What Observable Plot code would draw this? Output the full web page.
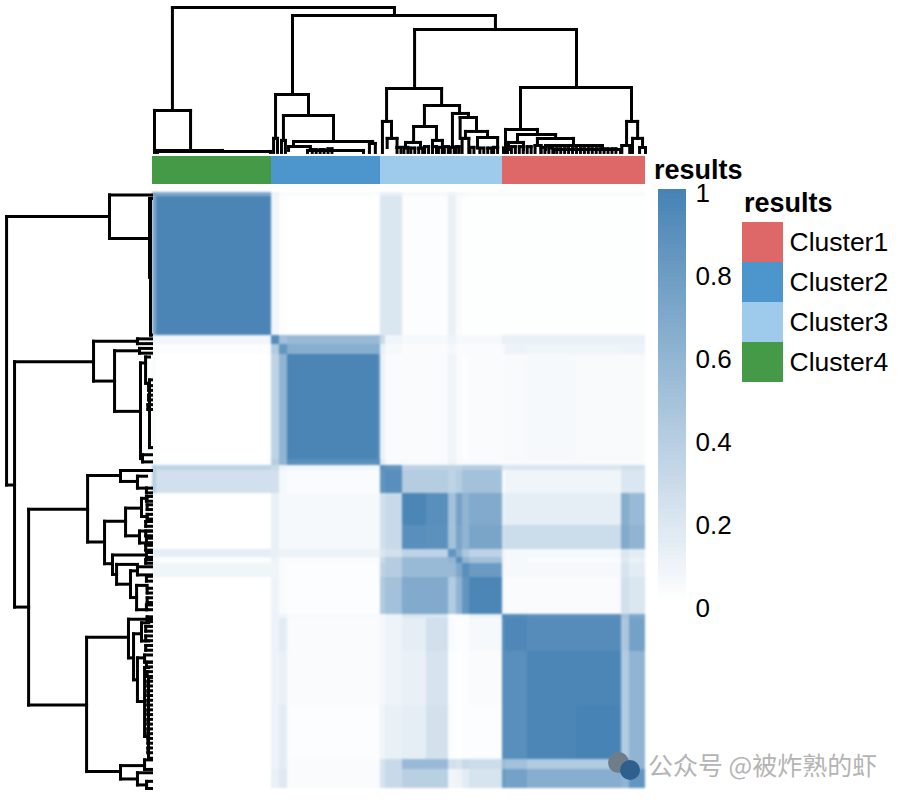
<!DOCTYPE html>
<html><head><meta charset="utf-8">
<script src="https://cdn.jsdelivr.net/npm/d3@7"></script>
<script src="https://cdn.jsdelivr.net/npm/@observablehq/plot@0.6"></script>
<style>
html,body{margin:0;padding:0;background:#fff}
#root{position:relative;width:900px;height:800px;overflow:hidden;font-family:"Liberation Sans",Arial,sans-serif;color:#000}
#root>svg,#root>div{position:absolute}
.ttl{font-weight:bold;font-size:27px;line-height:23px}
.wm{font-size:25px;color:#b4b4b4;white-space:nowrap;line-height:30px;font-family:"Noto Sans CJK SC",sans-serif}
.dot{border-radius:50%}
</style></head><body><div id="root"></div>
<script>
// sample rank edges of the heat-map segments (ordering of 250 samples), columns and rows
const colEdges = [0,2,60.3,64.4,68.5,114.6,115.6,118,127,139,150,154,157,161,177.5,179,190,215,238,242,250];
const rowEdges = [0,1.7,60,63.8,68,112,114.6,116.7,126.3,139.7,149.7,153.1,155.6,161.5,177,178.7,192.5,215,237.7,241.9,250];
// consensus values, row by row, one value per column segment
const consensus = [
 [.75,.70,.10,.03,.03,.03,.12,.12,.05,.05,.10,.05,.05,.04,.04,.04,.04,.04,.04,.04],
 [.70,.98,.07,.02,.00,.01,.20,.20,.02,.02,.12,.03,.01,.01,.01,.01,.01,.01,.01,.01],
 [.10,.07,.92,.50,.55,.55,.30,.08,.05,.05,.10,.05,.05,.05,.12,.12,.12,.12,.12,.12],
 [.03,.02,.42,.85,.65,.65,.12,.05,.03,.03,.06,.03,.03,.03,.05,.10,.08,.08,.10,.10],
 [.03,.00,.35,.60,.98,.85,.10,.03,.03,.03,.08,.03,.02,.03,.03,.04,.05,.04,.04,.04],
 [.03,.01,.40,.60,.90,.95,.15,.04,.04,.04,.10,.04,.03,.03,.03,.04,.04,.04,.04,.04],
 [.40,.35,.30,.10,.06,.10,.90,.85,.35,.35,.35,.35,.40,.40,.20,.20,.20,.20,.25,.25],
 [.40,.25,.25,.05,.03,.05,.85,.90,.40,.40,.35,.40,.50,.50,.03,.08,.08,.08,.20,.20],
 [.02,.00,.12,.05,.05,.05,.25,.30,.97,.90,.50,.75,.60,.68,.12,.14,.14,.14,.65,.55],
 [.02,.00,.12,.05,.05,.05,.25,.30,.90,.88,.50,.72,.60,.72,.25,.28,.28,.28,.68,.60],
 [.14,.14,.12,.10,.10,.10,.20,.25,.35,.35,.85,.65,.45,.35,.10,.05,.05,.05,.20,.15],
 [.03,.02,.10,.03,.03,.03,.30,.40,.55,.55,.60,.90,.60,.50,.08,.05,.03,.03,.18,.12],
 [.08,.08,.08,.03,.02,.03,.35,.40,.55,.55,.55,.70,.90,.80,.06,.05,.05,.05,.22,.15],
 [.01,.00,.10,.03,.02,.02,.42,.50,.68,.68,.42,.60,.85,.97,.05,.03,.03,.03,.25,.20],
 [.01,.00,.10,.08,.04,.04,.05,.10,.20,.20,.02,.02,.02,.10,.97,.92,.88,.88,.50,.70],
 [.01,.00,.10,.15,.03,.04,.06,.10,.14,.25,.03,.02,.02,.05,.92,.95,.92,.92,.45,.75],
 [.01,.00,.10,.12,.03,.03,.06,.10,.12,.22,.02,.00,.02,.03,.90,.90,.97,.97,.42,.60],
 [.01,.00,.10,.15,.02,.03,.08,.12,.14,.24,.02,.00,.02,.02,.90,.90,.97,.99,.42,.60],
 [.01,.00,.10,.15,.03,.03,.22,.30,.55,.55,.25,.22,.30,.28,.55,.50,.42,.42,.72,.60],
 [.01,.00,.12,.18,.03,.03,.22,.30,.38,.38,.08,.10,.15,.22,.80,.75,.65,.65,.60,.85]
];
// annotation bar
const clusterNames = ["Cluster1","Cluster2","Cluster3","Cluster4"];
const clusterColors = ["#DE6868","#4D95CD","#9ECAEB","#459A47"];
const clusterStart = [177.5,60.3,115.6,0];
const clusterEnd = [250,115.6,177.5,60.3];
// dendrogram merges: [rank a, rank b, height, height of child a, height of child b]
const merges = [
 [10.1,122.7,100,29,94.5],[1,19.3,29,0,1.4],[2.5,35.5,1.4,.7,.7],[2.5,59.8,.7,0,0],
 [71,173.9,94.5,40,84.8],[62.4,79.1,40,9.7,25.5],[66.4,91.8,25.5,8.3,7.6],[61.4,63.4,9.7,0,0],
 [65.4,67.4,8.3,0,0],[71.5,111.6,7.6,4.1,6.2],[69,80,4.1,1.4,1.4],[78.6,107,1.4,0,0],[110,113,6.2,0,0],
 [81,83,2,0,0],[85,87,2,0,0],[89,91,2.5,0,0],
 [132.9,215,84.8,44.1,44.8],[118.7,146.6,44.1,21.4,32.4],[116.6,121.2,21.4,0,9.7],[119,124,9.7,3.4,3.4],
 [137.9,155.7,32.4,17.9,26.9],[132.4,144,17.9,6.9,8.3],[128.3,135.9,6.9,3,3],[142,147,8.3,0,0],
 [152.1,160.2,26.9,4,24.1],[156,164.3,24.1,9.7,14.5],[158.7,169.9,14.5,9.7,10.3],[157,160.4,9.7,0,0],[164.8,175,10.3,3,3],
 [186.6,242.9,44.8,15.9,21.4],[179,195.2,15.9,0,12.4],[185.1,204.4,12.4,6.9,9.7],[180.5,188.1,6.9,2,2],
 [195.2,213.5,9.7,4.8,4.8],[199.3,228.2,4.8,2,2],[203.4,237.3,2.1,0,0],[194,197,4.8,0,0],
 [240.4,246,21.4,4.8,9.7],[238,242,4.8,0,0],[243.4,248.5,9.7,0,3.4],[247,250,3.4,0,0],
 [124,126,3.5,0,0],[127.5,129.5,3.5,0,0],[131,133,3,0,0],[135,137,3,0,0],[138,140,4,0,0],[142,144,4,0,0],
 [145,147,3.5,0,0],[148,150,4,0,0],[151,153,3.5,0,0],[154,155.5,4,0,0],[161,163,3.5,0,0],[166,168,3,0,0],
 [170,172,3,0,0],[173,175,3.5,0,0],[178,180,3,0,0],[182,184,4,0,0],[186,188,4,0,0],[190,192,4,0,0],
 [197,199,3.5,0,0],[201,203,3,0,0],[205,207,2.5,0,0],[209,211,2.5,0,0],[213,215,2.5,0,0],[217,219,2.5,0,0],
 [221,223,2.5,0,0],[225,227,2.5,0,0],[229,231,2.5,0,0],[233,235,2.5,0,0]
];
const colorbarTicks = [0,.2,.4,.6,.8,1];

const heatCells = consensus.flatMap((row,i)=>row.map((v,j)=>({x1:colEdges[j],x2:colEdges[j+1],y1:rowEdges[i],y2:rowEdges[i+1],v})));
const segs = merges.flatMap(([a,b,h,ha,hb])=>[
 {r1:a,h1:ha,r2:a,h2:h},{r1:a,h1:h,r2:b,h2:h},{r1:b,h1:hb,r2:b,h2:h}]);
// dendrogram height -> position beyond the matrix, in rank units of each axis
const topY = h => -16.8 - h*.608;
const leftX = h => -.5 - h*.735;
const annot = clusterNames.map((n,i)=>({n,c:clusterColors[i],x1:clusterStart[i],x2:clusterEnd[i]}));
const heatColor = {type:"linear",domain:[0,1],range:["#ffffff","#4682B4"],interpolate:"rgb"};

const main = Plot.plot({
 width:650,height:800,margin:0,
 style:{background:"transparent"},
 x:{domain:[0,250],range:[152,645],axis:null},
 y:{domain:[0,250],range:[192,788],axis:null},
 color:heatColor,
 marks:[
  Plot.rect(heatCells,{x1:"x1",x2:"x2",y1:"y1",y2:"y2",fill:"v",shapeRendering:"crispEdges",imageFilter:"blur(0.8px)"}),
  Plot.rect(annot,{x1:"x1",x2:"x2",y1:()=>-15,y2:()=>-3.3,fill:{value:"c",scale:null},shapeRendering:"crispEdges"}),
  Plot.link(segs,{x1:"r1",x2:"r2",y1:d=>topY(d.h1),y2:d=>topY(d.h2),stroke:"#000",strokeWidth:3,strokeLinecap:"square"}),
  Plot.link(segs,{y1:"r1",y2:"r2",x1:d=>leftX(d.h1),x2:d=>leftX(d.h2),stroke:"#000",strokeWidth:3,strokeLinecap:"square"})
 ]
});
main.style.left="0";main.style.top="0";

// colour bar with its own value axis
const rampStops = d3.range(0,1,.01);
const bar = Plot.plot({
 width:112,height:480,marginLeft:0,marginRight:75,marginTop:30,marginBottom:30,
 style:{background:"transparent",fontFamily:'"Liberation Sans",Arial,sans-serif',fontSize:"26px",color:"#000"},
 x:{domain:[0,1],axis:null},
 y:{domain:[0,1],range:[448,33.5],axis:"right",ticks:colorbarTicks,tickSize:0,tickPadding:0,tickFormat:d=>String(d),label:null,labelArrow:"none"},
 color:heatColor,
 marks:[
  Plot.rect(rampStops,{x1:()=>0,x2:()=>.76,y1:d=>d+.008,y2:d=>d+.02,fill:d=>d,shapeRendering:"crispEdges"})
 ]
});
bar.style.left="658px";bar.style.top="160px";

// categorical legend
const legend = Plot.plot({
 width:156,height:160,margin:0,
 style:{background:"transparent",fontFamily:'"Liberation Sans",Arial,sans-serif',fontSize:"26.5px",color:"#000"},
 x:{domain:[0,1],range:[0,41],axis:null},
 y:{domain:clusterNames,padding:0,axis:null},
 marks:[
  Plot.barX(clusterNames,{x1:()=>0,x2:()=>1,y:d=>d,fill:{value:(d,i)=>clusterColors[i],scale:null}}),
  Plot.text(clusterNames,{x:()=>1,y:d=>d,text:d=>d,textAnchor:"start",dx:6,fill:"#000"})
 ]
});
legend.style.left="742px";legend.style.top="222px";

const root = document.getElementById("root");
root.append(main,bar,legend);
function label(txt,cls,x,y){const e=document.createElement("div");e.className=cls;e.textContent=txt;e.style.left=x+"px";e.style.top=y+"px";root.append(e);return e;}
label("results","ttl",654,159);
label("results","ttl",744,192);
label("公众号 @被炸熟的虾","wm",648,749);
for(const [x,y,d,c] of [[608,752,21,"#6f7d8a"],[620,760,20,"#2f5f8c"]]){const e=label("","dot",x,y);e.style.width=d+"px";e.style.height=d+"px";e.style.background=c;}
</script></body></html>
